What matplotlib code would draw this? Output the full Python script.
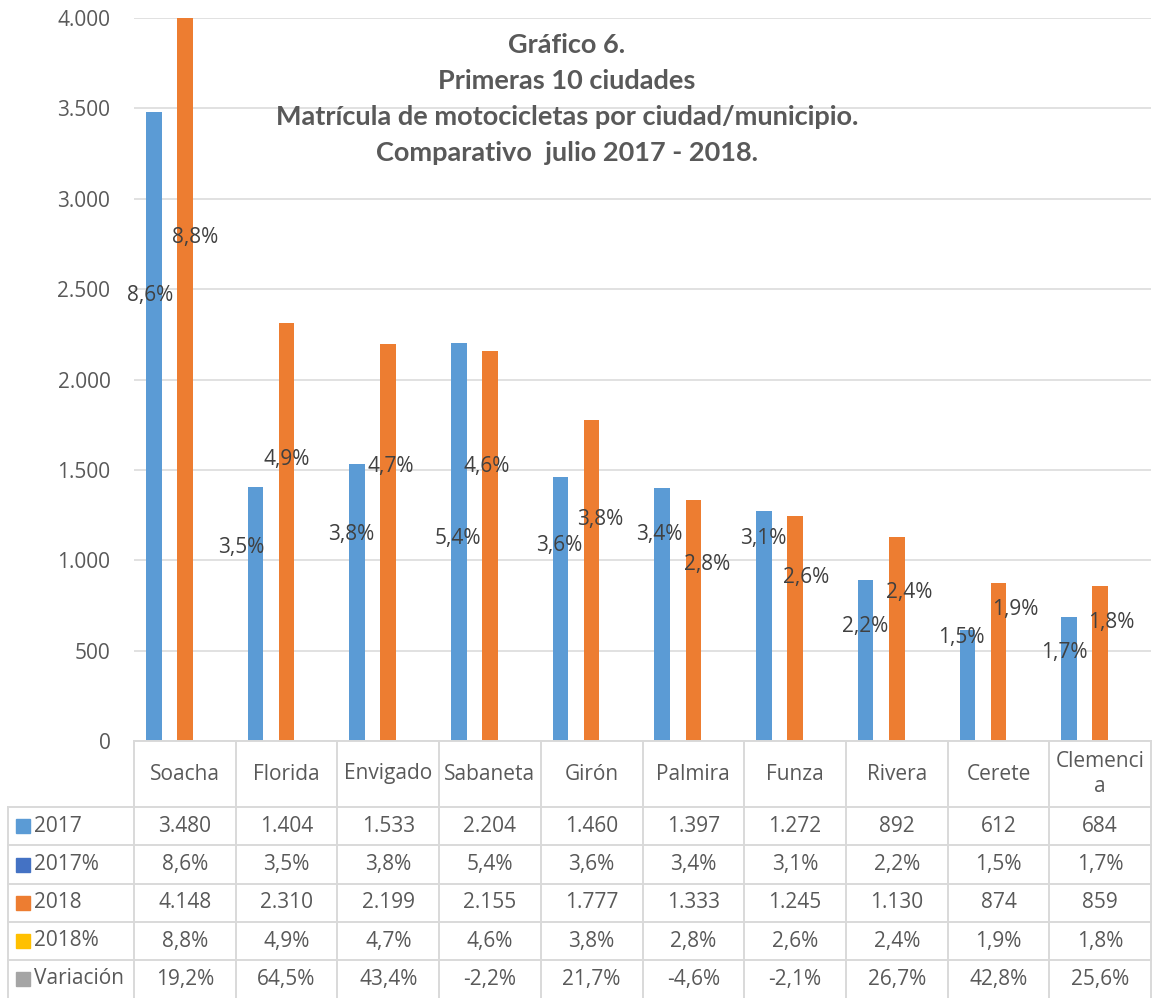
import matplotlib
matplotlib.use('Agg')
import matplotlib.pyplot as plt
import matplotlib.transforms as mtransforms
from matplotlib.patches import Rectangle

# Datos del grafico 6 - matricula de motos, julio 2017 vs 2018
ciudades = ['Soacha', 'Florida', 'Envigado', 'Sabaneta', 'Girón', 'Palmira',
            'Funza', 'Rivera', 'Cerete', 'Clemenci\na']
mat_2017 = [3480, 1404, 1533, 2204, 1460, 1397, 1272, 892, 612, 684]
pct_2017 = [8.6, 3.5, 3.8, 5.4, 3.6, 3.4, 3.1, 2.2, 1.5, 1.7]
mat_2018 = [4148, 2310, 2199, 2155, 1777, 1333, 1245, 1130, 874, 859]
pct_2018 = [8.8, 4.9, 4.7, 4.6, 3.8, 2.8, 2.6, 2.4, 1.9, 1.8]
variacion = [19.2, 64.5, 43.4, -2.2, 21.7, -4.6, -2.1, 26.7, 42.8, 25.6]
y_ticks = [0, 500, 1000, 1500, 2000, 2500, 3000, 3500, 4000]

# the % labels were dragged around by hand in excel, so keep where they sit
lab17_dx = [-0.34, -0.45, -0.36, -0.32, -0.32, -0.34, -0.31, -0.31, -0.37, -0.35]
lab17_y = [2467, 1068, 1140, 1118, 1084, 1145, 1118, 631, 570, 487]
lab18_dx = [0.10, 0.0, 0.02, -0.03, 0.08, 0.14, 0.11, 0.12, 0.17, 0.11]
lab18_y = [2783, 1555, 1516, 1521, 1223, 974, 902, 824, 730, 653]

AZUL = '#5B9BD5'
AZUL2 = '#4472C4'
NARANJA = '#ED7D31'
AMARILLO = '#FFC000'
GRIS = '#A5A5A5'
TXT = '#595959'
LINEA = '#D9D9D9'

plt.rcParams['font.family'] = ['Open Sans', 'DejaVu Sans']


def miles(v):
    return f'{v:,}'.replace(',', '.')


def pct(v):
    return f'{v:.1f}%'.replace('.', ',')


W, H = 1152, 998
fig = plt.figure(figsize=(W / 100, H / 100), dpi=100)
ax = fig.add_axes([134 / W, 1 - 741 / H, 1017 / W, 723 / H])

x = list(range(len(ciudades)))
ancho = 0.153
ax.bar([i - 2 * ancho for i in x], mat_2017, width=ancho, color=AZUL, zorder=2)
ax.bar(x, mat_2018, width=ancho, color=NARANJA, zorder=2)

for i in x:
    ax.text(i + lab17_dx[i], lab17_y[i], pct(pct_2017[i]), ha='center', va='center',
            fontsize=15, color='#404040', zorder=3)
    ax.text(i + lab18_dx[i], lab18_y[i], pct(pct_2018[i]), ha='center', va='center',
            fontsize=15, color='#404040', zorder=3)

ax.set_xlim(-0.5, len(ciudades) - 0.5)
ax.set_ylim(0, 4000)
ax.set_yticks(y_ticks)
ax.set_yticklabels([miles(v) for v in y_ticks])
ax.tick_params(axis='y', length=0, pad=17, labelsize=15, labelcolor=TXT)
ax.set_xticks([])
ax.grid(axis='y', color=LINEA, linewidth=1.1, zorder=0)
for s in ax.spines.values():
    s.set_visible(False)

# titulo
titulo = ['Gráfico 6.', 'Primeras 10 ciudades',
          'Matrícula de motocicletas por ciudad/municipio.',
          'Comparativo  julio 2017 - 2018.']
for k, linea in enumerate(titulo):
    fig.text(567 / W, 1 - (45 + 36 * k) / H, linea, ha='center', va='center',
             fontsize=19.5, fontweight='bold', color=TXT, family='Lato')

# tabla de datos debajo del eje
tr = mtransforms.blended_transform_factory(ax.transData, fig.transFigure)
def fy(px):
    return 1 - px / H

bordes = [741, 807, 845, 884, 922, 960, 998]
x_izq = -0.5 - 126 / 101.7
n = len(ciudades)
kw = dict(color=LINEA, linewidth=1.4, transform=tr, clip_on=False)
# horizontales (la ultima queda fuera de la imagen)
fig.add_artist(plt.Line2D([-0.5, n - 0.5], [fy(bordes[0])] * 2, **kw))
for b in bordes[1:-1]:
    fig.add_artist(plt.Line2D([x_izq, n - 0.5], [fy(b)] * 2, **kw))
# verticales
for i in range(n + 1):
    fig.add_artist(plt.Line2D([i - 0.5] * 2, [fy(bordes[0]), 0], **kw))
fig.add_artist(plt.Line2D([x_izq] * 2, [fy(bordes[1]), 0], **kw))

for i, c in enumerate(ciudades):
    fig.text(i, fy((bordes[0] + bordes[1]) / 2), c, ha='center', va='center',
             fontsize=15, color=TXT, transform=tr, linespacing=1.25)

filas = [('2017', AZUL, [miles(v) for v in mat_2017]),
         ('2017%', AZUL2, [pct(v) for v in pct_2017]),
         ('2018', NARANJA, [miles(v) for v in mat_2018]),
         ('2018%', AMARILLO, [pct(v) for v in pct_2018]),
         ('Variación', GRIS, [pct(v) for v in variacion])]
for r, (nombre, col, vals) in enumerate(filas):
    yc = fy((bordes[r + 1] + bordes[r + 2]) / 2)
    fig.add_artist(Rectangle((16 / W, yc - 7 / H), 14 / W, 14 / H, color=col,
                             transform=fig.transFigure))
    fig.text(34 / W, yc, nombre, ha='left', va='center', fontsize=15, color=TXT)
    for i, v in enumerate(vals):
        fig.text(i, yc, v, ha='center', va='center', fontsize=15, color=TXT,
                 transform=tr)

fig.savefig('out.png', dpi=100, facecolor='white')
